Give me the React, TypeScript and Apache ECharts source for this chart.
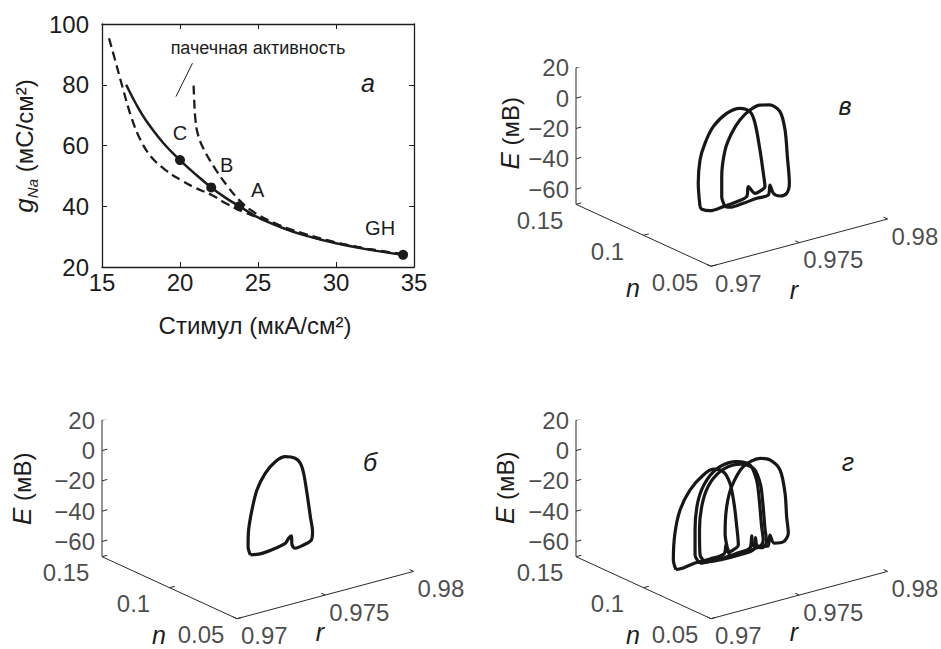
import React, { useEffect, useRef } from "react";
import * as echarts from "echarts";

const FONT = '"Liberation Sans", Arial, Helvetica, sans-serif';
const INK = "#1c1c1c";

// ---------- panel а : g_Na versus stimulus ----------
const stimulusRange = [15, 35, 5];
const gNaRange = [20, 100, 20];
const solidBranch: [number, number][] = [
  [16.55, 80], [17.2, 73.5], [17.8, 68.4], [18.9, 61], [20, 55.2], [21, 50.5], [22, 46.2],
  [23, 42.5], [23.8, 40], [25, 36.3], [26.5, 33], [28, 30.4], [30, 27.8], [32, 25.8], [34.3, 24],
];
const dashedLower: [number, number][] = [
  [15.45, 95.3], [15.9, 87], [16.3, 79.5], [16.9, 69], [17.5, 61.5], [18.2, 56], [19.1, 51.8],
  [20, 48.8], [21, 46], [22, 43.8], [23, 40.8], [24, 38.3], [25, 36.2], [26.5, 33.4], [28, 30.9],
  [30, 28.1], [32, 26], [34.3, 24.2],
];
const dashedBurst: [number, number][] = [
  [20.87, 79.7], [20.92, 74], [20.98, 69], [21.13, 64], [21.5, 59], [22.3, 52], [23.06, 46.5],
  [23.8, 42], [24.6, 38.5], [26, 34.6], [28, 30.6], [30, 28], [32, 26], [34.3, 24.2],
];
const markedNames = ["C", "B", "A", "GH"];
const markedPoints: [number, number][] = [[20, 55.2], [22, 46.2], [23.8, 40], [34.3, 24]];
const arrowFrom: [number, number] = [20.8, 87.1];
const arrowTo: [number, number] = [19.74, 76.1];

// ---------- 3D phase portraits (r, n, E) ----------
const rTicks = [0.97, 0.975, 0.98];
const nTicks = [0.05, 0.1, 0.15];
const eTicks = [-60, -40, -20, 0, 20];
const rRange = [0.97, 0.98];
const nRange = [0.05, 0.15];
const eRange = [-70, 20];

// panel в (two loops)
const loopV1: [number, number, number][] = [
  [0.9732, 0.1, -61.1], [0.9731, 0.1, -45.4], [0.9732, 0.1, -30.3], [0.97348, 0.1, -20.2],
  [0.97395, 0.1, -10.7], [0.97471, 0.1, -4.3], [0.97546, 0.1, -3.3], [0.97603, 0.1, -7.3],
  [0.97708, 0.11, -22.3], [0.97736, 0.11, -40.8], [0.97755, 0.11, -56.7], [0.97764, 0.11, -65.9],
  [0.97746, 0.11, -67.5], [0.97708, 0.11, -68.5], [0.9767, 0.11, -62.9], [0.97661, 0.11, -69.2],
  [0.97528, 0.1, -64.3], [0.97452, 0.1, -65.2], [0.97377, 0.1, -65.5], [0.9733, 0.1, -63.1],
];
const loopV2: [number, number, number][] = [
  [0.97462, 0.1, -65.5], [0.97443, 0.1, -58.4], [0.97443, 0.1, -45.2], [0.97462, 0.1, -28.2],
  [0.97499, 0.1, -18.3], [0.97546, 0.1, -11.0], [0.97603, 0.1, -6.2], [0.9766, 0.1, -4.7],
  [0.97716, 0.1, -6.4], [0.97773, 0.1, -12.6], [0.97878, 0.11, -32.0], [0.97891, 0.11, -50.0],
  [0.97826, 0.1, -61.5], [0.97811, 0.1, -67.6], [0.97773, 0.1, -68.2], [0.97735, 0.1, -65.2],
  [0.97716, 0.1, -59.2], [0.97707, 0.1, -65.5], [0.97641, 0.1, -65.6], [0.97565, 0.1, -66.5],
  [0.9749, 0.1, -66.8],
];
// panel б (single loop)
const loopB: [number, number, number][] = [
  [0.97458, 0.1, -62.7], [0.97445, 0.1, -56.8], [0.97448, 0.1, -45.9], [0.97467, 0.1, -33.3],
  [0.97495, 0.1, -21.0], [0.97542, 0.1, -11.5], [0.97599, 0.1, -5.6], [0.97656, 0.1, -4.1],
  [0.97712, 0.1, -6.9], [0.97741, 0.1, -11.1], [0.97836, 0.11, -24.7], [0.97855, 0.11, -38.5],
  [0.97874, 0.11, -54.5], [0.9781, 0.1, -58.4], [0.97803, 0.1, -63.6], [0.97759, 0.1, -65.5],
  [0.97712, 0.1, -66.2], [0.97694, 0.1, -63.5], [0.9769, 0.1, -57.4], [0.97674, 0.1, -58.5],
  [0.97656, 0.1, -61.2], [0.97599, 0.1, -62.7], [0.97524, 0.1, -63.7],
];
// panel г (four loops)
const loopG1: [number, number, number][] = [
  [0.97184, 0.1, -63.9], [0.97169, 0.1, -57.0], [0.97178, 0.1, -39.7], [0.97207, 0.1, -25.2],
  [0.97263, 0.1, -13.8], [0.97339, 0.1, -6.3], [0.97395, 0.1, -4.2], [0.97452, 0.1, -7.6],
  [0.97566, 0.11, -22.9], [0.97589, 0.11, -36.8], [0.97528, 0.1, -46.2], [0.97537, 0.1, -58.6],
  [0.97507, 0.1, -61.0], [0.97478, 0.1, -61.4], [0.97467, 0.1, -56.4], [0.97456, 0.1, -62.0],
  [0.97377, 0.1, -62.8], [0.97292, 0.1, -62.8], [0.97225, 0.1, -64.0],
];
const loopG2: [number, number, number][] = [
  [0.9732, 0.1, -63.9], [0.97292, 0.1, -57.5], [0.97292, 0.1, -41.1], [0.9731, 0.1, -21.9],
  [0.97358, 0.1, -10.2], [0.97433, 0.1, -3.7], [0.97528, 0.1, -3.4], [0.97603, 0.1, -7.9],
  [0.97717, 0.11, -25.5], [0.97732, 0.11, -39.1], [0.97669, 0.1, -50.7], [0.97678, 0.1, -59.7],
  [0.9766, 0.1, -63.1], [0.9762, 0.1, -61.2], [0.97613, 0.1, -55.0], [0.97603, 0.1, -62.6],
  [0.97528, 0.1, -63.8], [0.97415, 0.1, -64.7],
];
const loopG3: [number, number, number][] = [
  [0.97348, 0.1, -64.0], [0.9732, 0.1, -58.2], [0.97317, 0.1, -41.6], [0.97337, 0.1, -23.1],
  [0.97382, 0.1, -12.0], [0.97456, 0.1, -5.8], [0.97552, 0.1, -5.8], [0.97626, 0.1, -11.1],
  [0.97739, 0.11, -29.2], [0.97753, 0.11, -42.9], [0.97688, 0.1, -52.6], [0.97697, 0.1, -61.4],
  [0.97671, 0.1, -64.6], [0.97643, 0.1, -62.7], [0.97634, 0.1, -56.8], [0.97626, 0.1, -64.1],
  [0.97546, 0.1, -65.3], [0.97439, 0.1, -65.2],
];
const loopG4: [number, number, number][] = [
  [0.9749, 0.1, -64.8], [0.97471, 0.1, -56.5], [0.97462, 0.1, -48.5], [0.97471, 0.1, -31.3],
  [0.97499, 0.1, -19.0], [0.97565, 0.1, -7.8], [0.9766, 0.1, -5.3], [0.97716, 0.1, -8.1],
  [0.97773, 0.1, -16.5], [0.97878, 0.11, -39.2], [0.97887, 0.11, -55.0], [0.9782, 0.1, -59.7],
  [0.97792, 0.1, -64.4], [0.97739, 0.1, -63.6], [0.97716, 0.1, -57.6], [0.97705, 0.1, -64.5],
  [0.9766, 0.1, -63.5], [0.97565, 0.1, -64.9],
];

// ---------- projection (view of the 3D box, in px-like units) ----------
const AX_N = [135, -62]; // n from 0.15 to 0.05
const AX_R = [176.6, 47.3]; // r from 0.97 to 0.98
const AX_E = 136.5; // E from -70 to 20
function proj(r: number, n: number, e: number): [number, number] {
  const fn = (nRange[1] - n) / (nRange[1] - nRange[0]);
  const fr = (r - rRange[0]) / (rRange[1] - rRange[0]);
  const fe = (e - eRange[0]) / (eRange[1] - eRange[0]);
  return [fn * AX_N[0] + fr * AX_R[0], fn * AX_N[1] + fr * AX_R[1] + fe * AX_E];
}

type Panel = {
  ox: number; oy: number; loops: [number, number, number][][]; letter: string;
  letterPos: [number, number]; eLabelPos: [number, number]; nDy: number; rDy: number;
};
const panels: Panel[] = [
  { ox: 576, oy: 204.3, loops: [loopV1, loopV2], letter: "в", letterPos: [269, -98], eLabelPos: [-66, -71], nDy: 0, rDy: 0 },
  { ox: 102, oy: 556.7, loops: [loopB], letter: "б", letterPos: [268, -95], eLabelPos: [-80, -68], nDy: -5, rDy: -10 },
  { ox: 576, oy: 556.7, loops: [loopG1, loopG2, loopG3, loopG4], letter: "г", letterPos: [272, -95], eLabelPos: [-71, -69], nDy: -5, rDy: -10 },
];

const TICK_FS = 24;

function buildOption(): echarts.EChartsCoreOption {
  const grid: any[] = [{ left: 102, top: 24, width: 312, height: 243 }];
  const xAxis: any[] = [];
  const yAxis: any[] = [];
  const series: any[] = [];
  const graphic: any[] = [];

  const tickStyle = { show: true, inside: true, length: 5, lineStyle: { color: INK, width: 1 } };
  const lineAx = { show: true, lineStyle: { color: INK, width: 1.3 } };
  xAxis.push({
    gridIndex: 0, type: "value", position: "bottom", min: stimulusRange[0], max: stimulusRange[1],
    interval: stimulusRange[2], axisLine: lineAx, axisTick: tickStyle, splitLine: { show: false },
    axisLabel: { fontSize: TICK_FS, color: INK, fontFamily: FONT, margin: 3 },
  });
  xAxis.push({
    gridIndex: 0, type: "value", position: "top", min: stimulusRange[0], max: stimulusRange[1],
    interval: stimulusRange[2], axisLine: lineAx, axisTick: tickStyle, splitLine: { show: false },
    axisLabel: { show: false },
  });
  yAxis.push({
    gridIndex: 0, type: "value", position: "left", min: gNaRange[0], max: gNaRange[1],
    interval: gNaRange[2], axisLine: lineAx, axisTick: tickStyle, splitLine: { show: false },
    axisLabel: { fontSize: TICK_FS, color: INK, fontFamily: FONT, margin: 13 },
  });
  yAxis.push({
    gridIndex: 0, type: "value", position: "right", min: gNaRange[0], max: gNaRange[1],
    interval: gNaRange[2], axisLine: lineAx, axisTick: tickStyle, splitLine: { show: false },
    axisLabel: { show: false },
  });

  const curveBase = { type: "line", xAxisIndex: 0, yAxisIndex: 0, symbol: "none", smooth: 0.4, silent: true };
  series.push({ ...curveBase, data: dashedLower, lineStyle: { color: INK, width: 2.3, type: [9, 5] } });
  series.push({ ...curveBase, data: dashedBurst, lineStyle: { color: INK, width: 2.3, type: [9, 5] } });
  series.push({
    ...curveBase, data: solidBranch, lineStyle: { color: INK, width: 2.5 },
    markLine: {
      silent: true, symbol: ["none", "arrow"], symbolSize: [0, 9], animation: false,
      lineStyle: { color: INK, width: 1, type: "solid", opacity: 1 }, label: { show: false },
      data: [[{ coord: arrowFrom }, { coord: arrowTo }]],
    },
  });
  const labelOffsets: [number, number][] = [[0, -27], [15.5, -22], [18.5, -16], [-23, -27]];
  series.push({
    type: "scatter", xAxisIndex: 0, yAxisIndex: 0, symbolSize: 10, silent: true,
    itemStyle: { color: INK, opacity: 1 },
    data: markedPoints.map((p, i) => ({
      value: p,
      label: {
        show: true, formatter: markedNames[i], position: "inside", offset: labelOffsets[i],
        fontSize: 20, color: INK, fontFamily: FONT,
      },
    })),
  });

  graphic.push({
    type: "text", x: 258, y: 48,
    style: { text: "пачечная активность", fontSize: 18, fontFamily: FONT, fill: INK, align: "center", verticalAlign: "middle" },
  });
  graphic.push({
    type: "text", x: 368, y: 83,
    style: { text: "а", fontSize: 25, fontStyle: "italic", fontFamily: FONT, fill: INK, align: "center", verticalAlign: "middle" },
  });
  graphic.push({
    type: "text", x: 255, y: 325,
    style: { text: "Стимул (мкА/см²)", fontSize: 24, fontFamily: FONT, fill: INK, align: "center", verticalAlign: "middle" },
  });
  graphic.push({
    type: "text", x: 24, y: 146, rotation: Math.PI / 2,
    style: {
      text: "{g|g}{s|Na}{t| (мС/см²)}", fontFamily: FONT, fill: INK, align: "center", verticalAlign: "middle",
      rich: {
        g: { fontSize: 26, fontStyle: "italic", fontFamily: FONT, fill: INK, lineHeight: 32 },
        s: { fontSize: 15, fontStyle: "italic", fontFamily: FONT, fill: INK, lineHeight: 15, verticalAlign: "bottom" },
        t: { fontSize: 24, fontFamily: FONT, fill: INK, lineHeight: 32 },
      },
    },
  });

  // 3D panels
  const W = AX_N[0] + AX_R[0];
  panels.forEach((p, k) => {
    const gi = k + 1;
    grid.push({ left: p.ox, top: p.oy - AX_E, width: W, height: AX_E - AX_N[1] });
    xAxis.push({ gridIndex: gi, type: "value", min: 0, max: W, show: false });
    yAxis.push({ gridIndex: gi, type: "value", min: AX_N[1], max: AX_E, show: false });
    const ax = { xAxisIndex: gi + 1, yAxisIndex: gi + 1 };
    // box axes
    series.push({
      type: "line", ...ax, symbol: "none", silent: true, clip: false,
      lineStyle: { color: "#2a2a2a", width: 1 },
      data: [
        proj(rRange[0], nRange[1], eRange[1]), proj(rRange[0], nRange[1], eRange[0]),
        proj(rRange[0], nRange[0], eRange[0]), proj(rRange[1], nRange[0], eRange[0]),
      ],
    });
    const tickSegs: any[] = [];
    eTicks.forEach((e) => tickSegs.push({ coords: [proj(rRange[0], nRange[1], e), proj(rRange[0] + 0.0003, nRange[1], e)] }));
    nTicks.forEach((n) => tickSegs.push({ coords: [proj(rRange[0], n, eRange[0]), proj(rRange[0] + 0.0003, n, eRange[0])] }));
    rTicks.forEach((r) => tickSegs.push({ coords: [proj(r, nRange[0], eRange[0]), proj(r, nRange[0] + 0.003, eRange[0])] }));
    series.push({
      type: "lines", coordinateSystem: "cartesian2d", ...ax, silent: true,
      lineStyle: { color: "#2a2a2a", width: 1, opacity: 1 }, data: tickSegs,
    });
    const lab = { show: true, fontSize: TICK_FS, color: INK, fontFamily: FONT, verticalAlign: "middle", lineHeight: 22 };
    const tickLabelSeries = (data: any[]) => ({
      type: "scatter", ...ax, symbolSize: 0, silent: true, clip: false,
      itemStyle: { color: "rgba(0,0,0,0)" }, data,
    });
    series.push(tickLabelSeries(eTicks.map((e) => ({
      value: proj(rRange[0], nRange[1], e),
      label: { ...lab, formatter: e < 0 ? "−" + Math.abs(e) : String(e), position: [-7, 0], align: "right" },
    }))));
    series.push(tickLabelSeries(nTicks.map((n) => ({
      value: proj(rRange[0], n, eRange[0]),
      label: { ...lab, formatter: String(n), position: [-36, 16], align: "center" },
    }))));
    series.push(tickLabelSeries(rTicks.map((r) => ({
      value: proj(r, nRange[0], eRange[0]),
      label: { ...lab, formatter: String(r), position: [4, 17], align: "left" },
    }))));
    p.loops.forEach((loop) => {
      const pts = loop.map((q) => proj(q[0], q[1], q[2]));
      pts.push(pts[0]);
      series.push({
        type: "line", ...ax, symbol: "none", silent: true, clip: false, smooth: 0.3,
        lineStyle: { color: "#171717", width: 3.2, join: "round" }, data: pts,
      });
    });
    // names
    const cx = p.ox + AX_N[0];
    const cy = p.oy - AX_N[1];
    graphic.push({
      type: "text", x: cx - 78, y: cy + 21.5 + p.nDy,
      style: { text: "n", fontSize: 25, fontStyle: "italic", fontFamily: FONT, fill: INK, align: "center", verticalAlign: "middle", lineHeight: 22 },
    });
    graphic.push({
      type: "text", x: cx + 83, y: cy + 23.5 + p.rDy,
      style: { text: "r", fontSize: 25, fontStyle: "italic", fontFamily: FONT, fill: INK, align: "center", verticalAlign: "middle", lineHeight: 22 },
    });
    graphic.push({
      type: "text", x: p.ox + p.eLabelPos[0], y: p.oy + p.eLabelPos[1], rotation: Math.PI / 2,
      style: {
        text: "{i|E}{t| (мВ)}", fontFamily: FONT, fill: INK, align: "center", verticalAlign: "middle",
        rich: {
          i: { fontSize: 26, fontStyle: "italic", fontFamily: FONT, fill: INK },
          t: { fontSize: 24, fontFamily: FONT, fill: INK },
        },
      },
    });
    graphic.push({
      type: "text", x: p.ox + p.letterPos[0], y: p.oy + p.letterPos[1],
      style: { text: p.letter, fontSize: 25, fontStyle: "italic", fontFamily: FONT, fill: INK, align: "center", verticalAlign: "middle" },
    });
  });

  return {
    animation: false,
    backgroundColor: "#ffffff",
    textStyle: { fontFamily: FONT },
    grid, xAxis, yAxis, series, graphic,
  };
}

export default function App() {
  const ref = useRef<HTMLDivElement>(null);
  useEffect(() => {
    if (!ref.current) return;
    const chart = echarts.init(ref.current, undefined, { renderer: "svg" });
    chart.setOption(buildOption());
    return () => chart.dispose();
  }, []);
  return (
    <div
      ref={ref}
      style={{ position: "fixed", left: 0, top: 0, width: 941, height: 649, background: "#fff" }}
    />
  );
}
